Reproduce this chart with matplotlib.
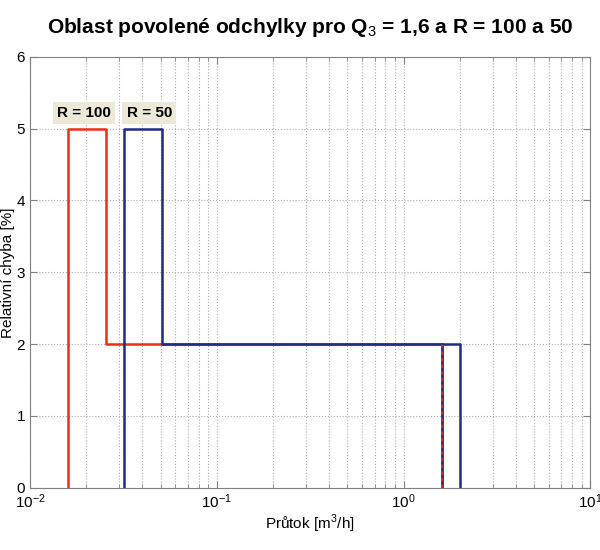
import numpy as np
import matplotlib.pyplot as plt
from matplotlib.ticker import LogLocator, NullFormatter

plt.rcParams['font.family'] = ['Liberation Sans', 'DejaVu Sans']
plt.rcParams['mathtext.fontset'] = 'custom'
plt.rcParams['mathtext.rm'] = 'Liberation Sans'

# --------data: Q1, Q2, Q3, Q4 boundaries for Q3 = 1,6--------------------
x_r100 = [0.016, 0.016, 0.0256, 0.0256, 1.6, 1.6]
x_r50 = [0.032, 0.032, 0.0512, 0.0512, 2.0, 2.0]
y_err = [0, 5, 5, 2, 2, 0]
x_q3 = [1.6, 1.6]
y_q3 = [0, 2]

labels = ["R = 100", "R = 50"]
label_x = [0.0195, 0.0435]
label_y = 5.22

red = '#ee2e12'
blue = '#1f2a8a'

fig = plt.figure(figsize=(6, 5.5), dpi=100)
ax = fig.add_axes([0.05, 0.113, 0.934, 0.784])

ax.plot(x_r100, y_err, color=red, lw=1.8)
ax.plot(x_r50, y_err, color=blue, lw=1.8)
ax.plot(x_q3, y_q3, color=blue, lw=1.8)
ax.plot(x_q3, y_q3, color=red, lw=1.2, linestyle=(0, (2, 2)))

for lab, lx in zip(labels, label_x):
    ax.text(lx, label_y, lab, ha='center', va='center', fontsize=11, fontweight='bold',
            bbox=dict(facecolor='#ece9d8', edgecolor='none', pad=3))

ax.set_xscale('log')
ax.set_xlim(1e-2, 1e1)
ax.set_ylim(0, 6)
ax.xaxis.set_minor_locator(LogLocator(base=10, subs=np.arange(2, 10)))
ax.xaxis.set_minor_formatter(NullFormatter())

ax.grid(True, which='both', axis='x', color='#b0b0b0', linestyle=':', lw=0.8)
ax.grid(True, which='major', axis='y', color='#b0b0b0', linestyle=':', lw=0.8)

for s in ax.spines.values():
    s.set_color('#808080')
ax.tick_params(which='both', direction='in', top=True, right=True, color='#808080',
               labelsize=11)
ax.tick_params(which='major', length=5)
ax.tick_params(which='minor', length=3)

ax.set_xlabel("Průtok [m$^3$/h]", fontsize=11, labelpad=1)
ax.set_ylabel("Relativní chyba [%]", fontsize=11, labelpad=1)
ax.set_title("Oblast povolené odchylky pro Q$_3$ = 1,6 a R = 100 a 50",
             fontsize=15, fontweight='bold', pad=17)

plt.savefig('out.png', dpi=100)
